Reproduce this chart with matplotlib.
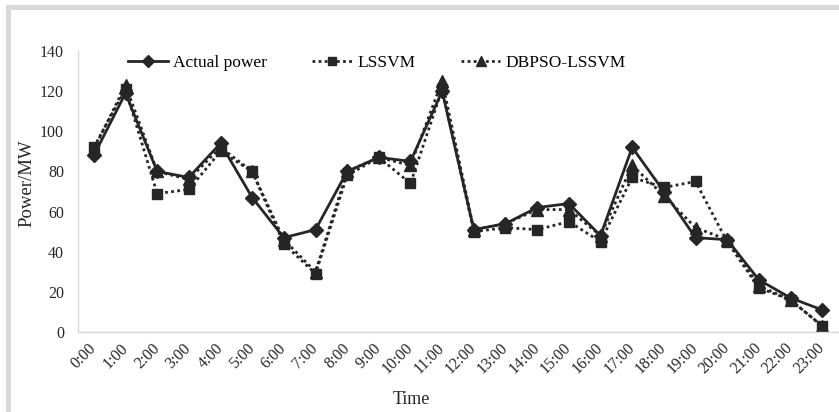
import matplotlib.pyplot as plt
from matplotlib.patches import Rectangle

plt.rcParams['font.family'] = ['Liberation Serif', 'DejaVu Serif']

# hourly data
hours = ['%d:00' % h for h in range(24)]
actual = [88, 119, 80, 77, 94, 67, 47, 51, 80, 87, 85, 120,
          51, 54, 62, 64, 48, 92, 70, 47, 46, 26, 17, 11]
lssvm = [92, 121, 69, 71, 90, 80, 44, 29, 78, 87, 74, 121,
         50, 52, 51, 55, 45, 77, 72, 75, 45, 22, 16, 3]
dbpso = [91, 123, 80, 76, 92, 80, 46, 30, 80, 87, 83, 125,
         51, 54, 61, 61, 48, 83, 68, 52, 46, 23, 16, 3]

W, H = 839, 412
fig = plt.figure(figsize=(W / 100, H / 100), dpi=100)

# outer chart border (cropped on right and bottom)
fig.patches.append(Rectangle((7.5 / W, -0.1), 1.2, 1.1 - 7.5 / H, transform=fig.transFigure,
                             fill=False, edgecolor='#d9d9d9', linewidth=3.6))

ax = fig.add_axes([78 / W, (H - 332) / H, 760 / W, 281 / H])

c = '#262626'
x = list(range(len(hours)))
ax.plot(x, actual, color=c, lw=2.0, marker='D', ms=7, label='Actual power')
ax.plot(x, lssvm, color=c, lw=2.0, ls=(0, (1, 1.2)), marker='s', ms=7.5, label='LSSVM')
ax.plot(x, dbpso, color=c, lw=2.0, ls=(0, (1, 1.2)), marker='^', ms=8, label='DBPSO-LSSVM')

ax.set_xlim(-0.5, 23.5)
ax.set_ylim(0, 140)
ax.set_yticks(range(0, 141, 20))
ax.set_xticks(x)
ax.set_xticklabels(hours, rotation=45, ha='right', va='center', rotation_mode='anchor')
ax.tick_params(length=0, labelsize=11.5, colors='#262626')
ax.tick_params(axis='x', pad=10)
ax.tick_params(axis='y', pad=10)

for s in ['top', 'right']:
    ax.spines[s].set_visible(False)
for s in ['left', 'bottom']:
    ax.spines[s].set_color('#d9d9d9')
    ax.spines[s].set_linewidth(1)

fig.text(411 / W, 1 - 399 / H, 'Time', ha='center', va='center', fontsize=13, color='#262626')
fig.text(27 / W, 1 - 183 / H, 'Power/MW', ha='center', va='center', rotation=90,
         fontsize=13.5, color='#262626')

fig.legend(loc='center left', bbox_to_anchor=(128 / W, 1 - 63 / H), ncol=3, frameon=False,
           fontsize=12.5, handlelength=2.3, handletextpad=0.3, columnspacing=2.6,
           borderaxespad=0, borderpad=0, markerscale=0.85)

fig.savefig('out.png', dpi=100)
